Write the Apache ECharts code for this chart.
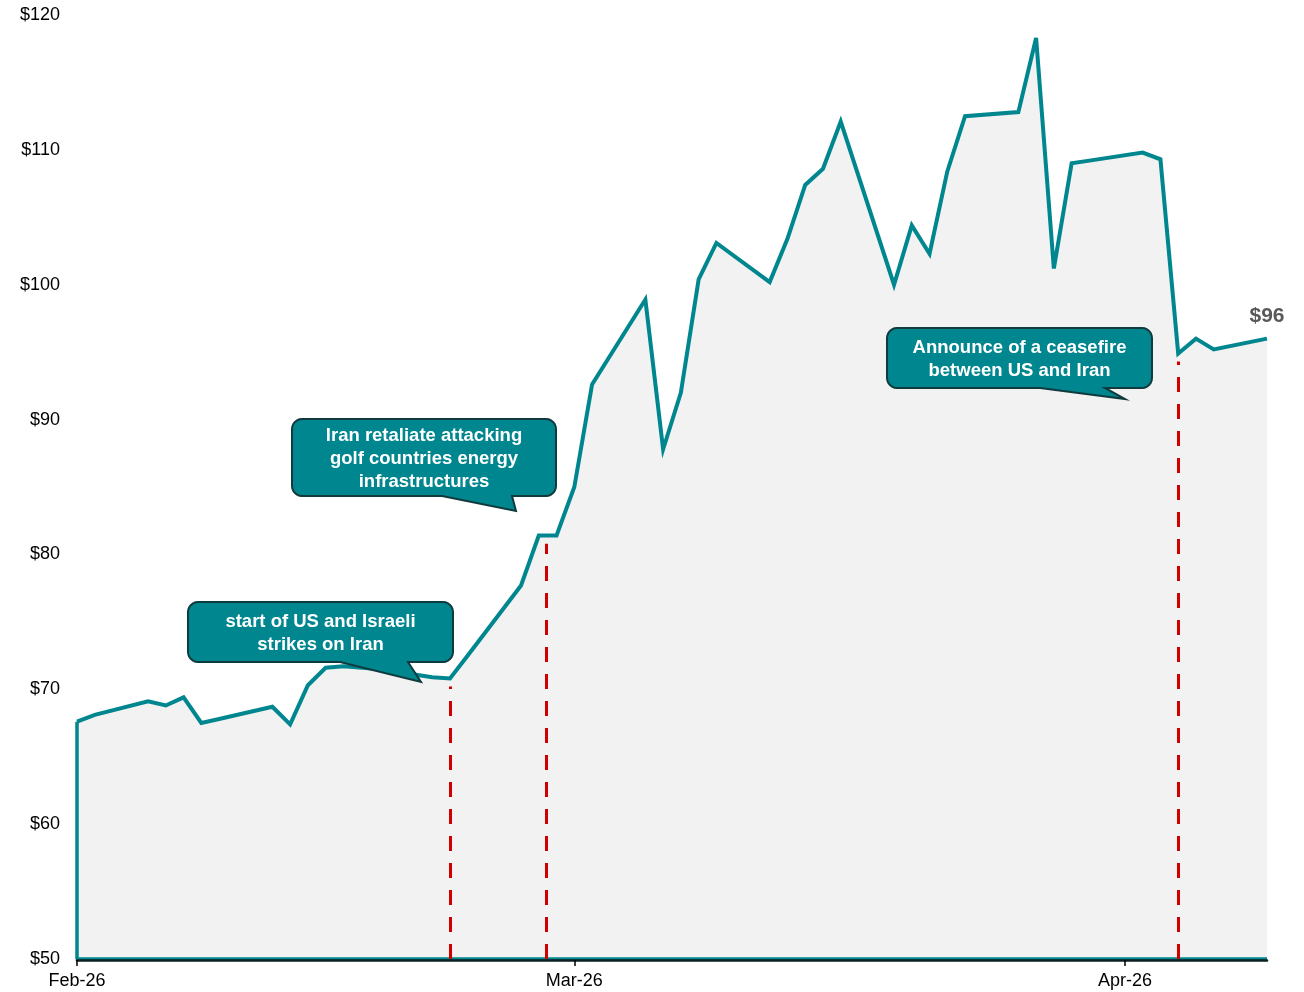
<!DOCTYPE html>
<html>
<head>
<meta charset="utf-8">
<script src="https://cdn.jsdelivr.net/npm/echarts@6/dist/echarts.min.js"></script>
<style>
  html, body { margin: 0; padding: 0; background: #fff; }
  #chart { width: 1304px; height: 992px; }
</style>
</head>
<body>
<div id="chart"></div>
<script>
// Brent crude, daily close (USD / barrel)
const dates = [
  '2026-02-01','2026-02-02','2026-02-05','2026-02-06','2026-02-07','2026-02-08','2026-02-09',
  '2026-02-12','2026-02-13','2026-02-14','2026-02-15','2026-02-16',
  '2026-02-19','2026-02-20','2026-02-21','2026-02-22','2026-02-23',
  '2026-02-26','2026-02-27','2026-02-28','2026-03-01','2026-03-02',
  '2026-03-05','2026-03-06','2026-03-07','2026-03-08','2026-03-09',
  '2026-03-12','2026-03-13','2026-03-14','2026-03-15','2026-03-16',
  '2026-03-19','2026-03-20','2026-03-21','2026-03-22','2026-03-23',
  '2026-03-26','2026-03-27','2026-03-28','2026-03-29','2026-03-30',
  '2026-04-02','2026-04-03','2026-04-04','2026-04-05','2026-04-06',
  '2026-04-09'
];
const prices = [
  67.6, 68.1, 69.1, 68.8, 69.4, 67.5, 67.8,
  68.7, 67.4, 70.3, 71.6, 71.7,
  71.4, 71.1, 70.9, 70.8, 72.5,
  77.7, 81.4, 81.4, 85.0, 92.6,
  98.9, 87.8, 92.0, 100.4, 103.1,
  100.2, 103.4, 107.4, 108.6, 112.1,
  100.0, 104.4, 102.3, 108.4, 112.5,
  112.8, 118.3, 101.2, 109.0, 109.2,
  109.8, 109.3, 94.9, 96.0, 95.2,
  96
];

// axis ticks
const tickDates = ['2026-02-01', '2026-03-01', '2026-04-01'];
const tickLabels = ['Feb-26', 'Mar-26', 'Apr-26'];
const yMin = 50, yMax = 120, yStep = 10;

// event markers (dashed verticals) and their captions
const eventDates = ['2026-02-22', '2026-02-27T09:36', '2026-04-04'];
const calloutTexts = [
  ['start of US and Israeli', 'strikes on Iran'],
  ['Iran retaliate attacking', 'golf countries energy', 'infrastructures'],
  ['Announce of a ceasefire', 'between US and Iran']
];

// local-time timestamp from 'YYYY-MM-DD' or 'YYYY-MM-DDTHH:mm'
function toTs(s) {
  const [d, t] = s.split('T');
  const [y, m, day] = d.split('-').map(Number);
  const [hh, mm] = t ? t.split(':').map(Number) : [0, 0];
  return new Date(y, m - 1, day, hh, mm).getTime();
}

const ts = dates.map(toTs);
const tickTs = tickDates.map(toTs);
const eventTs = eventDates.map(toTs);

// price along the drawn line at a given time
function priceAt(t) {
  for (let i = 0; i < ts.length - 1; i++) {
    if (t >= ts[i] && t <= ts[i + 1]) {
      const f = (t - ts[i]) / (ts[i + 1] - ts[i]);
      return prices[i] + f * (prices[i + 1] - prices[i]);
    }
  }
  return prices[prices.length - 1];
}

const TEAL = '#00868F';
const last = prices.length - 1;
const lineData = ts.map((t, i) => [t, prices[i]]);

// outline of the shaded region: bottom edge and left edge
const frameData = [[ts[last], yMin], [ts[0], yMin], [ts[0], prices[0]]];

const chart = echarts.init(document.getElementById('chart'), null, { renderer: 'canvas' });

// speech-bubble polygon: rounded box with a tail leaving the bottom edge
function bubblePoints(x, y, w, h, r, tailL, tailR, tipX, tipY) {
  const pts = [];
  const arc = (cx, cy, a0, a1) => {
    const n = 6;
    for (let k = 0; k <= n; k++) {
      const a = a0 + (a1 - a0) * k / n;
      pts.push([cx + r * Math.cos(a), cy + r * Math.sin(a)]);
    }
  };
  arc(x + r, y + r, Math.PI, Math.PI * 1.5);
  arc(x + w - r, y + r, Math.PI * 1.5, Math.PI * 2);
  arc(x + w - r, y + h - r, 0, Math.PI * 0.5);
  pts.push([tailR, y + h]);
  pts.push([tipX, tipY]);
  pts.push([tailL, y + h]);
  arc(x + r, y + h - r, Math.PI * 0.5, Math.PI);
  return pts;
}

// callout boxes
const calloutLayout = [
  { x: 188, y: 602, w: 265, h: 60, tailL: 340, tailR: 408, tipX: 421, tipY: 682 },
  { x: 292, y: 419, w: 264, h: 77, tailL: 442, tailR: 512, tipX: 516, tipY: 511 },
  { x: 887, y: 328, w: 265, h: 60, tailL: 1040, tailR: 1105, tipX: 1125, tipY: 399 }
];

const graphics = [];
calloutLayout.forEach((c, i) => {
  graphics.push({
    type: 'polygon',
    z: 100,
    shape: { points: bubblePoints(c.x, c.y, c.w, c.h, 10, c.tailL, c.tailR, c.tipX, c.tipY) },
    style: { fill: TEAL, stroke: '#0F3B3E', lineWidth: 2 }
  });
  graphics.push({
    type: 'text',
    z: 101,
    x: c.x + c.w / 2,
    y: c.y + c.h / 2 + 1.5,
    style: {
      text: calloutTexts[i].join('\n'),
      fill: '#fff',
      font: 'bold 18.5px "Liberation Sans", Arial, sans-serif',
      lineHeight: 23,
      align: 'center',
      verticalAlign: 'middle',
      textAlign: 'center',
      textVerticalAlign: 'middle'
    }
  });
});

const option = {
  animation: false,
  backgroundColor: '#fff',
  grid: { left: 77, right: 37, top: 15, bottom: 33 },
  xAxis: {
    type: 'value',
    min: ts[0],
    max: ts[last],
    z: 6,
    offset: 1,
    axisLine: { show: true, lineStyle: { color: '#0A1F20', width: 2.5 } },
    axisTick: { show: true, customValues: tickTs, length: 6, lineStyle: { color: '#000', width: 1.5 } },
    axisLabel: {
      customValues: tickTs,
      margin: 12,
      fontFamily: 'Liberation Sans',
      fontSize: 18,
      color: '#000',
      formatter: (v) => {
        let best = 0;
        tickTs.forEach((t, i) => { if (Math.abs(t - v) < Math.abs(tickTs[best] - v)) best = i; });
        return tickLabels[best];
      }
    },
    splitLine: { show: false }
  },
  yAxis: {
    type: 'value',
    min: yMin,
    max: yMax,
    interval: yStep,
    axisLine: { show: false },
    axisTick: { show: false },
    splitLine: { show: false },
    axisLabel: {
      margin: 17,
      fontFamily: 'Liberation Sans',
      fontSize: 18,
      color: '#000',
      formatter: (v) => '$' + v
    }
  },
  series: [
    {
      name: 'Brent',
      type: 'line',
      data: lineData,
      symbol: 'none',
      z: 3,
      lineStyle: { color: TEAL, width: 4, join: 'miter', miterLimit: 6 },
      areaStyle: { color: '#F2F2F2', opacity: 1, origin: 'start' },
      markLine: {
        silent: true,
        symbol: 'none',
        label: { show: false },
        lineStyle: { color: '#D00000', width: 3, type: [15, 12], opacity: 1 },
        data: eventTs.map((t) => [
          { coord: [t, yMin] },
          { coord: [t, priceAt(t) - 0.6] }
        ])
      },
      markPoint: {
        silent: true,
        symbol: 'circle',
        symbolSize: 1,
        itemStyle: { color: 'rgba(0,0,0,0)' },
        label: {
          show: true,
          position: 'top',
          distance: 11,
          formatter: (p) => '$' + p.value,
          fontFamily: 'Liberation Sans',
          fontWeight: 'bold',
          fontSize: 21,
          color: '#595959'
        },
        data: [{ coord: [ts[last], prices[last]], value: prices[last] }]
      }
    },
    {
      name: 'frame',
      type: 'line',
      data: frameData,
      symbol: 'none',
      z: 4,
      silent: true,
      clip: false,
      lineStyle: { color: TEAL, width: 3.5 }
    }
  ],
  graphic: graphics
};

chart.setOption(option);
</script>
</body>
</html>
